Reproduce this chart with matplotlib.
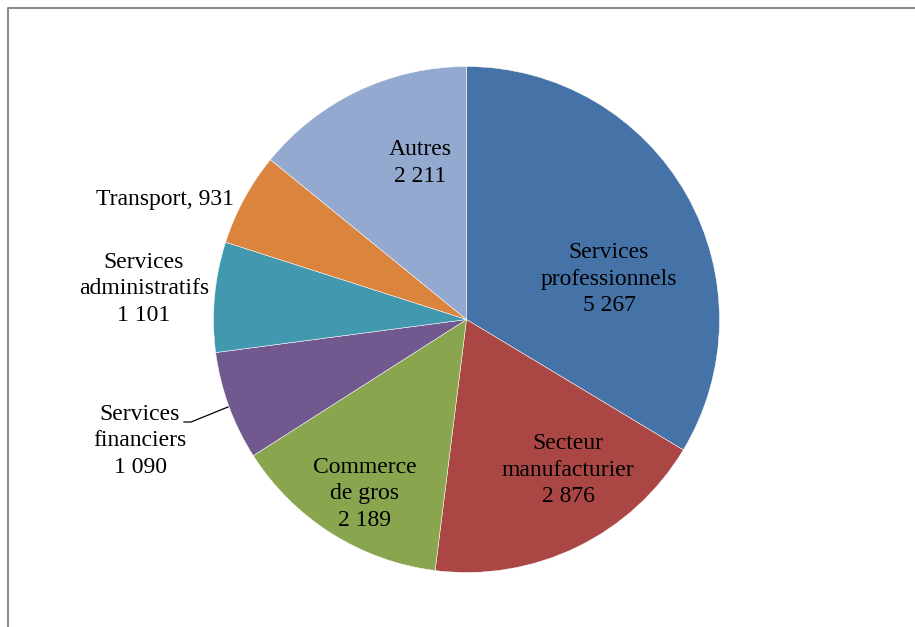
import matplotlib
matplotlib.use("Agg")
import matplotlib.pyplot as plt

# Employment by sector
categories = ["Services\nprofessionnels", "Secteur\nmanufacturier", "Commerce\nde gros",
              "Services\nfinanciers", "Services\nadministratifs", "Transport", "Autres"]
values = [5267, 2876, 2189, 1090, 1101, 931, 2211]
colors = ["#4572A7", "#AA4643", "#89A54E", "#71588F", "#4198AF", "#DB843D", "#93A9CF"]
separators = ["\n", "\n", "\n", "\n", "\n", ", ", "\n"]


def fmt(v):
    return f"{v:,}".replace(",", " ")


W, H = 915, 627
fig = plt.figure(figsize=(W / 100, H / 100), dpi=100)
ax = fig.add_axes([0, 0, 1, 1])

cx, cy, r = 466.5, H - 319.5, 253
ax.pie(values, colors=colors, startangle=90, counterclock=False,
       center=(cx, cy), radius=r, frame=True,
       wedgeprops=dict(edgecolor="white", linewidth=0.35))
ax.set_xlim(0, W)
ax.set_ylim(0, H)
ax.set_aspect("equal")
ax.axis("off")

# outer frame
ax.plot([7.5, 7.5, W + 5], [-5, H - 7.5, H - 7.5], color="#8c8c8c", lw=1.5,
        solid_capstyle="butt", clip_on=False)

font = dict(family="Liberation Serif", fontsize=17, color="black",
            ha="center", va="center", linespacing=1.32)

# label positions (pixel coordinates, from top)
pos = [(609, 279), (568, 470), (365, 494), (140, 441), (144, 289), (165, 199), (420, 163)]
for name, v, sep, (x, y) in zip(categories, values, separators, pos):
    ax.text(x, H - y, f"{name}{sep}{fmt(v)}", **font)

# leader line for the small financial slice
ax.plot([184, 191, 228], [H - 422, H - 422, H - 407], color="black", lw=0.9)

fig.savefig("out.png", dpi=100)
